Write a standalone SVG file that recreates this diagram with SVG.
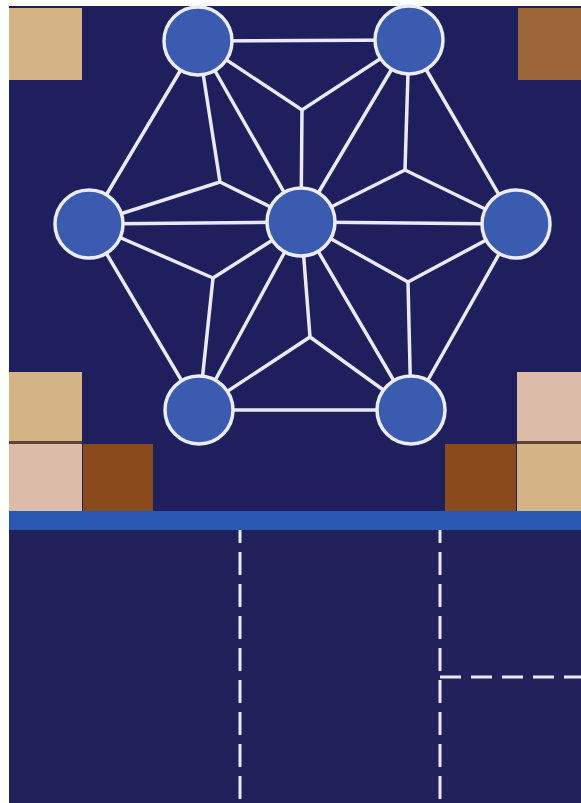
<svg xmlns="http://www.w3.org/2000/svg" width="581" height="803" viewBox="0 0 581 803">
<style>
.edge{stroke:#e9e9f7;stroke-width:3.5;fill:none;stroke-linecap:round}
.node{fill:#3b5bb1;stroke:#ececf8;stroke-width:3.5}
.dash{stroke:#e9e9f7;stroke-width:3;fill:none;stroke-dasharray:23 9}
.hdash{stroke:#e9e9f7;stroke-width:3;fill:none;stroke-dasharray:21 10}
</style>
<rect x="0" y="0" width="581" height="803" fill="#ffffff"/>
<rect x="9" y="6" width="572" height="506" fill="#1f1f5e"/>
<rect x="9" y="512" width="572" height="291" fill="#22215c"/>
<g id="squares">
<rect x="9" y="441" width="73" height="3" fill="#5e4434"/>
<rect x="517" y="441" width="64" height="3" fill="#5e4434"/>
<rect id="sq-tl" x="9" y="8" width="73" height="72" fill="#d4b384"/>
<rect id="sq-tr" x="518" y="8" width="63" height="72" fill="#9c6638"/>
<rect id="sq-l1" x="9" y="372" width="73" height="69" fill="#d4b384"/>
<rect id="sq-l2" x="9" y="444" width="73" height="68" fill="#dcbca8"/>
<rect id="sq-l3" x="83" y="444" width="70" height="68" fill="#8a4a1c"/>
<rect id="sq-r1" x="517" y="372" width="64" height="69" fill="#dcbca8"/>
<rect id="sq-r2" x="517" y="444" width="64" height="68" fill="#d4b384"/>
<rect id="sq-r3" x="445" y="444" width="71" height="68" fill="#8a4a1c"/>
</g>
<g id="dashed-lines">
<line class="dash" x1="240" y1="520" x2="240" y2="803"/>
<line class="dash" x1="440" y1="520" x2="440" y2="803"/>
<line class="hdash" x1="440" y1="677" x2="581" y2="677"/>
</g>
<rect id="bar" x="9" y="511" width="572" height="19" fill="#2b58b0"/>
<g id="connectors">
<line class="edge" x1="198" y1="41" x2="409" y2="40"/>
<line class="edge" x1="409" y1="40" x2="516" y2="224"/>
<line class="edge" x1="516" y1="224" x2="411" y2="410"/>
<line class="edge" x1="411" y1="410" x2="199" y2="410"/>
<line class="edge" x1="199" y1="410" x2="89" y2="224"/>
<line class="edge" x1="89" y1="224" x2="198" y2="41"/>
<line class="edge" x1="301" y1="222" x2="198" y2="41"/>
<line class="edge" x1="301" y1="222" x2="409" y2="40"/>
<line class="edge" x1="301" y1="222" x2="89" y2="224"/>
<line class="edge" x1="301" y1="222" x2="516" y2="224"/>
<line class="edge" x1="301" y1="222" x2="199" y2="410"/>
<line class="edge" x1="301" y1="222" x2="411" y2="410"/>
<polyline class="edge" points="198,41 302,110 409,40"/>
<line class="edge" x1="302" y1="110" x2="301" y2="222"/>
<polyline class="edge" points="198,41 220,182 89,224"/>
<line class="edge" x1="220" y1="182" x2="301" y2="222"/>
<polyline class="edge" points="409,40 405,170 516,224"/>
<line class="edge" x1="405" y1="170" x2="301" y2="222"/>
<polyline class="edge" points="89,224 213,278 199,410"/>
<line class="edge" x1="213" y1="278" x2="301" y2="222"/>
<polyline class="edge" points="516,224 408,282 411,410"/>
<line class="edge" x1="408" y1="282" x2="301" y2="222"/>
<polyline class="edge" points="199,410 310,337 411,410"/>
<line class="edge" x1="310" y1="337" x2="301" y2="222"/>
</g>
<g id="n-tl"><circle class="node" cx="198" cy="41" r="34"/></g>
<g id="n-tr"><circle class="node" cx="409" cy="40" r="34"/></g>
<g id="n-l"><circle class="node" cx="89" cy="224" r="34"/></g>
<g id="n-c"><circle class="node" cx="301" cy="222" r="34"/></g>
<g id="n-r"><circle class="node" cx="516" cy="224" r="34"/></g>
<g id="n-bl"><circle class="node" cx="199" cy="410" r="34"/></g>
<g id="n-br"><circle class="node" cx="411" cy="410" r="34"/></g>
</svg>
